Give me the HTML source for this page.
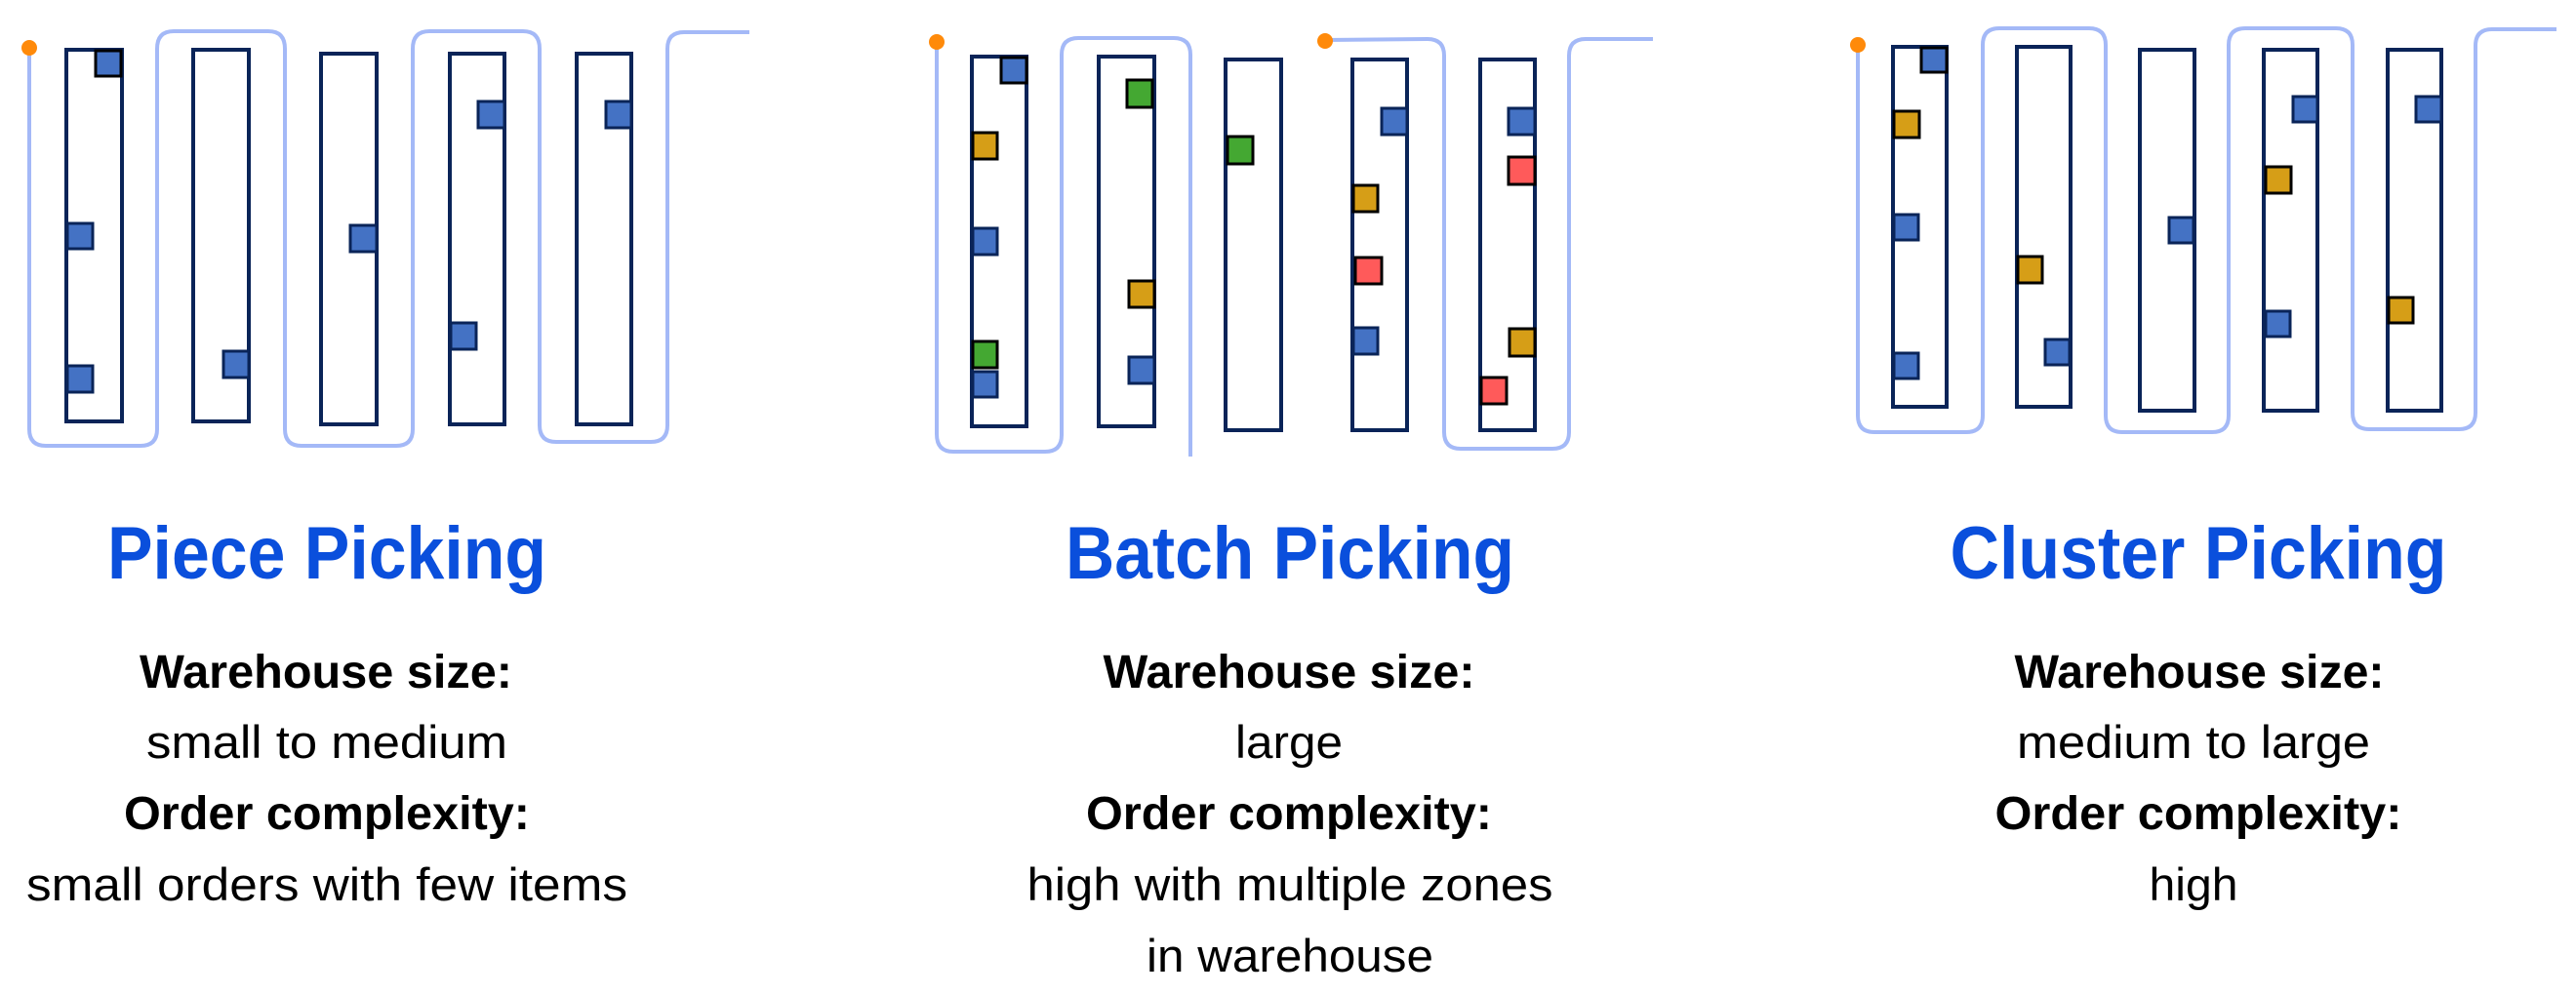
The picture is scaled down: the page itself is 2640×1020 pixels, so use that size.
<!DOCTYPE html>
<html><head><meta charset="utf-8"><style>
html,body{margin:0;padding:0;background:#fff;width:2640px;height:1020px;overflow:hidden}
svg{display:block}
.t{font-family:"Liberation Sans",sans-serif;font-weight:bold;font-size:76px;fill:#0a4fdc}
.b{font-family:"Liberation Sans",sans-serif;font-weight:bold;font-size:48px;fill:#000}
.r{font-family:"Liberation Sans",sans-serif;font-size:47px;fill:#000}
.p{fill:none;stroke:#a4b9f7;stroke-width:4}
.k{fill:none;stroke:#0a2458;stroke-width:4}
.bl{fill:#4472c4;stroke:#0a2458;stroke-width:3}
.bk{fill:#4472c4;stroke:#000;stroke-width:3}
.go{fill:#d69e17;stroke:#000;stroke-width:3}
.gr{fill:#44a832;stroke:#000;stroke-width:3}
.rd{fill:#ff5a5a;stroke:#000;stroke-width:3}
</style></head><body>
<svg width="2640" height="1020" viewBox="0 0 2640 1020" xmlns="http://www.w3.org/2000/svg">
<!-- Panel 1 -->
<path class="p" d="M30,49 L30,440 Q30,457 47,457 L144,457 Q161,457 161,440 L161,50 Q161,32 178,32 L275,32 Q292,32 292,50 L292,440 Q292,457 309,457 L406,457 Q423,457 423,440 L423,50 Q423,32 440,32 L536,32 Q553,32 553,50 L553,436 Q553,453 570,453 L667,453 Q684,453 684,436 L684,50 Q684,33 701,33 L768,33"/>
<rect class="k" x="68" y="51" width="57" height="381"/>
<rect class="k" x="198" y="51" width="57" height="381"/>
<rect class="k" x="329" y="55" width="57" height="380"/>
<rect class="k" x="461" y="55" width="56" height="380"/>
<rect class="k" x="591" y="55" width="56" height="380"/>
<rect class="bk" x="98" y="52" width="26" height="26"/>
<rect class="bl" x="69" y="229" width="26" height="26"/>
<rect class="bl" x="69" y="375" width="26" height="27"/>
<rect class="bl" x="229" y="360" width="26" height="27"/>
<rect class="bl" x="359" y="231" width="27" height="27"/>
<rect class="bl" x="490" y="104" width="27" height="27"/>
<rect class="bl" x="462" y="331" width="26" height="27"/>
<rect class="bl" x="621" y="104" width="26" height="27"/>
<circle cx="30" cy="49" r="8" fill="#ff8a0a"/>
<!-- Panel 2 -->
<path class="p" d="M960,43 L960,445 Q960,463 977,463 L1071,463 Q1088,463 1088,446 L1088,56 Q1088,39 1105,39 L1203,39 Q1220,39 1220,56 L1220,468"/>
<path class="p" d="M1358,41 L1463,40 Q1480,40 1480,57 L1480,443 Q1480,460 1497,460 L1591,460 Q1608,460 1608,443 L1608,57 Q1608,40 1625,40 L1694,40"/>
<rect class="k" x="996" y="58" width="56" height="379"/>
<rect class="k" x="1126" y="58" width="57" height="379"/>
<rect class="k" x="1256" y="61" width="57" height="380"/>
<rect class="k" x="1386" y="61" width="56" height="380"/>
<rect class="k" x="1517" y="61" width="56" height="380"/>
<rect class="bk" x="1026" y="59" width="26" height="26"/>
<rect class="go" x="997" y="136" width="25" height="27"/>
<rect class="bl" x="997" y="234" width="25" height="27"/>
<rect class="gr" x="997" y="350" width="25" height="27"/>
<rect class="bl" x="997" y="381" width="25" height="26"/>
<rect class="gr" x="1155" y="82" width="26" height="28"/>
<rect class="go" x="1157" y="288" width="26" height="27"/>
<rect class="bl" x="1157" y="366" width="26" height="27"/>
<rect class="gr" x="1258" y="140" width="26" height="28"/>
<rect class="bl" x="1416" y="111" width="26" height="27"/>
<rect class="go" x="1387" y="190" width="25" height="27"/>
<rect class="rd" x="1389" y="264" width="27" height="27"/>
<rect class="bl" x="1387" y="336" width="25" height="27"/>
<rect class="bl" x="1546" y="111" width="27" height="27"/>
<rect class="rd" x="1546" y="161" width="27" height="28"/>
<rect class="go" x="1547" y="337" width="26" height="28"/>
<rect class="rd" x="1518" y="387" width="26" height="27"/>
<circle cx="960" cy="43" r="8" fill="#ff8a0a"/>
<circle cx="1358" cy="42" r="8" fill="#ff8a0a"/>
<!-- Panel 3 -->
<path class="p" d="M1904,46 L1904,426 Q1904,443 1921,443 L2015,443 Q2032,443 2032,426 L2032,46 Q2032,29 2049,29 L2141,29 Q2158,29 2158,46 L2158,426 Q2158,443 2175,443 L2267,443 Q2284,443 2284,426 L2284,46 Q2284,29 2301,29 L2394,29 Q2411,29 2411,46 L2411,423 Q2411,440 2428,440 L2520,440 Q2537,440 2537,423 L2537,47 Q2537,30 2554,30 L2620,30"/>
<rect class="k" x="1940" y="48" width="55" height="369"/>
<rect class="k" x="2067" y="48" width="55" height="369"/>
<rect class="k" x="2193" y="51" width="56" height="370"/>
<rect class="k" x="2320" y="51" width="55" height="370"/>
<rect class="k" x="2447" y="51" width="55" height="370"/>
<rect class="bk" x="1969" y="49" width="26" height="25"/>
<rect class="go" x="1941" y="114" width="26" height="27"/>
<rect class="bl" x="1941" y="220" width="25" height="26"/>
<rect class="bl" x="1941" y="362" width="25" height="26"/>
<rect class="go" x="2068" y="263" width="25" height="27"/>
<rect class="bl" x="2096" y="348" width="25" height="26"/>
<rect class="bl" x="2223" y="223" width="25" height="26"/>
<rect class="bl" x="2350" y="99" width="25" height="26"/>
<rect class="go" x="2322" y="171" width="26" height="27"/>
<rect class="bl" x="2322" y="319" width="25" height="26"/>
<rect class="bl" x="2476" y="99" width="26" height="26"/>
<rect class="go" x="2448" y="305" width="25" height="26"/>
<circle cx="1904" cy="46" r="8" fill="#ff8a0a"/>
<!-- Text -->
<g text-anchor="middle">
<text class="t" x="335" y="593" textLength="450" lengthAdjust="spacingAndGlyphs">Piece Picking</text>
<text class="b" x="334" y="705" textLength="382" lengthAdjust="spacingAndGlyphs">Warehouse size:</text>
<text class="r" x="335" y="777" textLength="370" lengthAdjust="spacingAndGlyphs">small to medium</text>
<text class="b" x="335" y="850" textLength="416" lengthAdjust="spacingAndGlyphs">Order complexity:</text>
<text class="r" x="335" y="923" textLength="616" lengthAdjust="spacingAndGlyphs">small orders with few items</text>

<text class="t" x="1322" y="593" textLength="460" lengthAdjust="spacingAndGlyphs">Batch Picking</text>
<text class="b" x="1321" y="705" textLength="381" lengthAdjust="spacingAndGlyphs">Warehouse size:</text>
<text class="r" x="1321" y="777" textLength="110" lengthAdjust="spacingAndGlyphs">large</text>
<text class="b" x="1321" y="850" textLength="416" lengthAdjust="spacingAndGlyphs">Order complexity:</text>
<text class="r" x="1322" y="923" textLength="539" lengthAdjust="spacingAndGlyphs">high with multiple zones</text>
<text class="r" x="1322" y="996" textLength="294" lengthAdjust="spacingAndGlyphs">in warehouse</text>

<text class="t" x="2253" y="593" textLength="509" lengthAdjust="spacingAndGlyphs">Cluster Picking</text>
<text class="b" x="2254" y="705" textLength="379" lengthAdjust="spacingAndGlyphs">Warehouse size:</text>
<text class="r" x="2248" y="777" textLength="362" lengthAdjust="spacingAndGlyphs">medium to large</text>
<text class="b" x="2253" y="850" textLength="417" lengthAdjust="spacingAndGlyphs">Order complexity:</text>
<text class="r" x="2248" y="923" textLength="91" lengthAdjust="spacingAndGlyphs">high</text>
</g>
</svg>
</body></html>
